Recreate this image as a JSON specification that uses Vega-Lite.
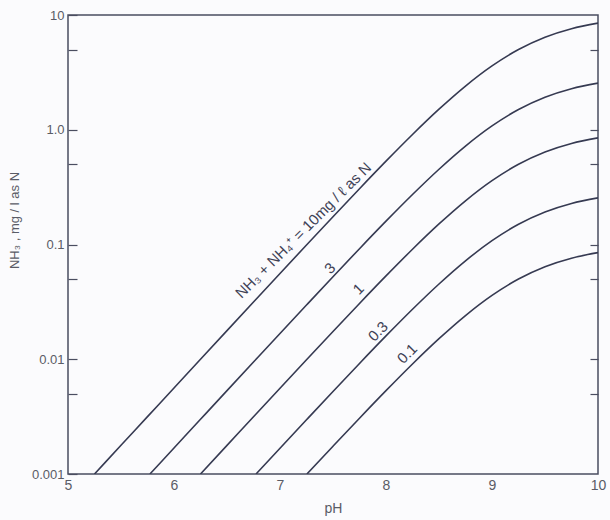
{
  "$schema": "https://vega.github.io/schema/vega-lite/v6.json",
  "width": 530,
  "height": 459,
  "autosize": "none",
  "padding": {"left": 68, "top": 15, "right": 12, "bottom": 46},
  "background": "#fbfbfd",
  "config": {
    "view": {"stroke": "#4a4d60", "strokeWidth": 1.5},
    "font": "Liberation Sans"
  },
  "datasets": {
    "curves": [
      {"series": "10", "pH": 5.25, "nh3": 0.001},
      {"series": "10", "pH": 5.5, "nh3": 0.001778},
      {"series": "10", "pH": 5.75, "nh3": 0.003161},
      {"series": "10", "pH": 6.0, "nh3": 0.00562},
      {"series": "10", "pH": 6.25, "nh3": 0.00999},
      {"series": "10", "pH": 6.5, "nh3": 0.01775},
      {"series": "10", "pH": 6.75, "nh3": 0.03152},
      {"series": "10", "pH": 7.0, "nh3": 0.05592},
      {"series": "10", "pH": 7.25, "nh3": 0.09901},
      {"series": "10", "pH": 7.5, "nh3": 0.1747},
      {"series": "10", "pH": 7.75, "nh3": 0.3065},
      {"series": "10", "pH": 8.0, "nh3": 0.5324},
      {"series": "10", "pH": 8.25, "nh3": 0.9091},
      {"series": "10", "pH": 8.5, "nh3": 1.51},
      {"series": "10", "pH": 8.75, "nh3": 2.403},
      {"series": "10", "pH": 9.0, "nh3": 3.6},
      {"series": "10", "pH": 9.25, "nh3": 5.0},
      {"series": "10", "pH": 9.5, "nh3": 6.401},
      {"series": "10", "pH": 9.75, "nh3": 7.597},
      {"series": "10", "pH": 10.0, "nh3": 8.49},
      {"series": "3", "pH": 5.773, "nh3": 0.001},
      {"series": "3", "pH": 6.0, "nh3": 0.001686},
      {"series": "3", "pH": 6.25, "nh3": 0.002997},
      {"series": "3", "pH": 6.5, "nh3": 0.005326},
      {"series": "3", "pH": 6.75, "nh3": 0.009457},
      {"series": "3", "pH": 7.0, "nh3": 0.01678},
      {"series": "3", "pH": 7.25, "nh3": 0.0297},
      {"series": "3", "pH": 7.5, "nh3": 0.05242},
      {"series": "3", "pH": 7.75, "nh3": 0.09196},
      {"series": "3", "pH": 8.0, "nh3": 0.1597},
      {"series": "3", "pH": 8.25, "nh3": 0.2727},
      {"series": "3", "pH": 8.5, "nh3": 0.4529},
      {"series": "3", "pH": 8.75, "nh3": 0.7208},
      {"series": "3", "pH": 9.0, "nh3": 1.08},
      {"series": "3", "pH": 9.25, "nh3": 1.5},
      {"series": "3", "pH": 9.5, "nh3": 1.92},
      {"series": "3", "pH": 9.75, "nh3": 2.279},
      {"series": "3", "pH": 10.0, "nh3": 2.547},
      {"series": "1", "pH": 6.25, "nh3": 0.001},
      {"series": "1", "pH": 6.5, "nh3": 0.001775},
      {"series": "1", "pH": 6.75, "nh3": 0.003152},
      {"series": "1", "pH": 7.0, "nh3": 0.005592},
      {"series": "1", "pH": 7.25, "nh3": 0.009901},
      {"series": "1", "pH": 7.5, "nh3": 0.01747},
      {"series": "1", "pH": 7.75, "nh3": 0.03065},
      {"series": "1", "pH": 8.0, "nh3": 0.05324},
      {"series": "1", "pH": 8.25, "nh3": 0.09091},
      {"series": "1", "pH": 8.5, "nh3": 0.151},
      {"series": "1", "pH": 8.75, "nh3": 0.2403},
      {"series": "1", "pH": 9.0, "nh3": 0.36},
      {"series": "1", "pH": 9.25, "nh3": 0.5},
      {"series": "1", "pH": 9.5, "nh3": 0.6401},
      {"series": "1", "pH": 9.75, "nh3": 0.7597},
      {"series": "1", "pH": 10.0, "nh3": 0.849},
      {"series": "0.3", "pH": 6.774, "nh3": 0.001},
      {"series": "0.3", "pH": 7.0, "nh3": 0.001678},
      {"series": "0.3", "pH": 7.25, "nh3": 0.00297},
      {"series": "0.3", "pH": 7.5, "nh3": 0.005242},
      {"series": "0.3", "pH": 7.75, "nh3": 0.009196},
      {"series": "0.3", "pH": 8.0, "nh3": 0.01597},
      {"series": "0.3", "pH": 8.25, "nh3": 0.02727},
      {"series": "0.3", "pH": 8.5, "nh3": 0.04529},
      {"series": "0.3", "pH": 8.75, "nh3": 0.07208},
      {"series": "0.3", "pH": 9.0, "nh3": 0.108},
      {"series": "0.3", "pH": 9.25, "nh3": 0.15},
      {"series": "0.3", "pH": 9.5, "nh3": 0.192},
      {"series": "0.3", "pH": 9.75, "nh3": 0.2279},
      {"series": "0.3", "pH": 10.0, "nh3": 0.2547},
      {"series": "0.1", "pH": 7.254, "nh3": 0.001},
      {"series": "0.1", "pH": 7.5, "nh3": 0.001747},
      {"series": "0.1", "pH": 7.75, "nh3": 0.003065},
      {"series": "0.1", "pH": 8.0, "nh3": 0.005324},
      {"series": "0.1", "pH": 8.25, "nh3": 0.009091},
      {"series": "0.1", "pH": 8.5, "nh3": 0.0151},
      {"series": "0.1", "pH": 8.75, "nh3": 0.02403},
      {"series": "0.1", "pH": 9.0, "nh3": 0.036},
      {"series": "0.1", "pH": 9.25, "nh3": 0.05},
      {"series": "0.1", "pH": 9.5, "nh3": 0.06401},
      {"series": "0.1", "pH": 9.75, "nh3": 0.07597},
      {"series": "0.1", "pH": 10.0, "nh3": 0.0849}
    ],
    "labels": [
      {"label": "NH₃ + NH₄⁺ = 10mg / ℓ as N", "pH": 7.22, "nh3": 0.133},
      {"label": "3", "pH": 7.47, "nh3": 0.062},
      {"label": "1", "pH": 7.74, "nh3": 0.041},
      {"label": "0.3", "pH": 7.925, "nh3": 0.0175},
      {"label": "0.1", "pH": 8.2, "nh3": 0.0112}
    ]
  },
  "resolve": {"axis": {"y": "independent"}},
  "layer": [
    {
      "data": {"name": "curves"},
      "mark": {"type": "line", "interpolate": "monotone", "color": "#363a52", "strokeWidth": 1.6, "clip": true},
      "encoding": {
        "x": {
          "field": "pH", "type": "quantitative",
          "scale": {"domain": [5, 10], "nice": false, "zero": false},
          "axis": {
            "title": "pH", "values": [5, 6, 7, 8, 9, 10], "format": "d",
            "domain": false, "ticks": false, "grid": false,
            "labelFontSize": 14, "labelColor": "#5a5c66", "labelPadding": 4,
            "labelFlush": false,
            "titleFontSize": 14, "titleFontWeight": "normal", "titleColor": "#5a5c66", "titlePadding": 9
          }
        },
        "y": {
          "field": "nh3", "type": "quantitative",
          "scale": {"type": "log", "domain": [0.001, 10], "nice": false},
          "axis": {
            "title": "NH₃ , mg / l as N",
            "titleY": 205,
            "values": [0.001, 0.005, 0.01, 0.05, 0.1, 0.5, 1, 5, 10],
            "labelExpr": "datum.value == 10 ? '10' : datum.value == 1 ? '1.0' : datum.value == 0.1 ? '0.1' : datum.value == 0.01 ? '0.01' : datum.value == 0.001 ? '0.001' : ''",
            "domain": false, "grid": false,
            "tickSize": -9, "tickColor": "#4a4d60", "tickWidth": 1.2,
            "labelFontSize": 13, "labelColor": "#5a5c66", "labelPadding": 13,
            "labelFlush": false,
            "titleFontSize": 13, "titleFontWeight": "normal", "titleColor": "#5a5c66", "titlePadding": 10
          }
        },
        "detail": {"field": "series", "type": "nominal"}
      }
    },
    {
      "data": {"name": "labels"},
      "mark": {"type": "text", "angle": -45, "fontSize": 15, "color": "#3f4256", "align": "center", "baseline": "middle"},
      "encoding": {
        "x": {"field": "pH", "type": "quantitative"},
        "y": {
          "field": "nh3", "type": "quantitative",
          "axis": {
            "orient": "right", "title": null, "labels": false, "domain": false, "grid": false,
            "values": [0.005, 0.01, 0.05, 0.1, 0.5, 1, 5],
            "tickSize": -8, "tickColor": "#4a4d60", "tickWidth": 1.2
          }
        },
        "text": {"field": "label", "type": "nominal"}
      }
    }
  ]
}
